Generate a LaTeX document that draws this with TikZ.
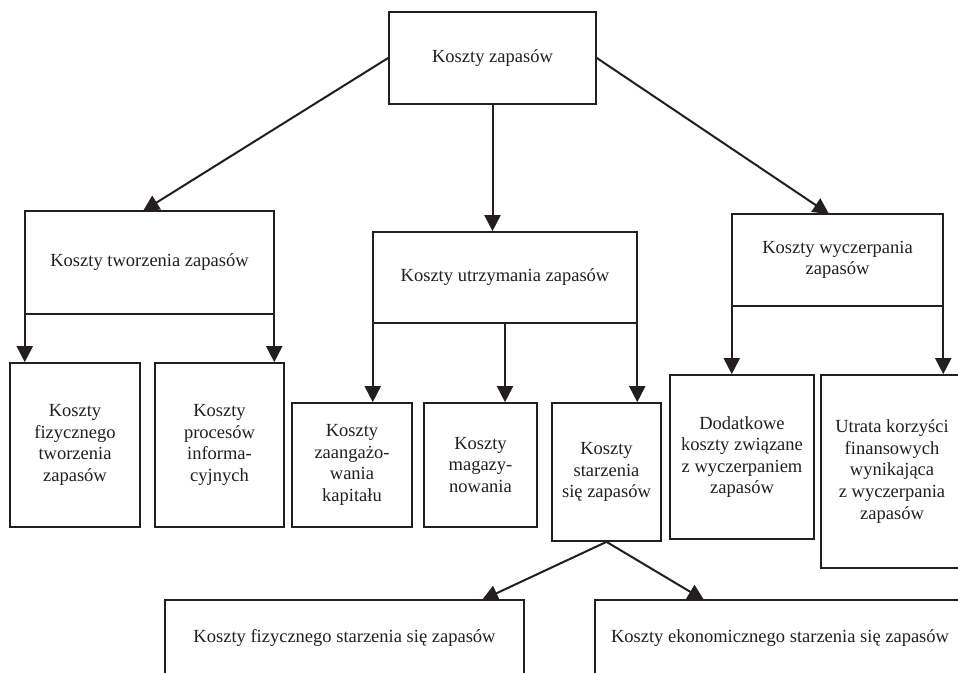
\documentclass[tikz,border=0pt]{standalone}
\usepackage{fontspec}
\setmainfont{Liberation Serif}
\usetikzlibrary{arrows.meta}
\definecolor{ink}{HTML}{231F20}
\begin{document}
\begin{tikzpicture}[x=1pt,y=-1pt,
  box/.style={draw=ink, line width=1.7pt, rectangle, inner sep=0pt, align=center,
    text=ink, font=\fontsize{18.5}{21.6}\selectfont},
  arr/.style={draw=ink, line width=2pt, -{Triangle[width=16pt,length=16pt]}}]
\useasboundingbox (0,0) rectangle (958,672);
\clip (0,0) rectangle (958,672);
\fill[white] (0,0) rectangle (958,672);
% top
\node[box, minimum width=207pt, minimum height=92pt] (top) at (492.5,58) {Koszty zapasów};
% level 2
\node[box, minimum width=249pt, minimum height=103pt] (tw) at (149.5,262.5) {Koszty tworzenia zapasów};
\node[box, minimum width=264pt, minimum height=91pt] (ut) at (505,277.5) {Koszty utrzymania zapasów};
\node[box, minimum width=211pt, minimum height=92pt] (wy) at (837.5,260) {Koszty wyczerpania\\zapasów};
% level 3
\node[box, minimum width=130pt, minimum height=164pt] (c1) at (75,445) {Koszty\\fizycznego\\tworzenia\\zapasów};
\node[box, minimum width=129pt, minimum height=164pt] (c2) at (219.5,445) {Koszty\\procesów\\informa-\\cyjnych};
\node[box, minimum width=120pt, minimum height=124pt] (c3) at (352,465) {Koszty\\zaangażo-\\wania\\kapitału};
\node[box, minimum width=113pt, minimum height=124pt] (c4) at (480.5,465) {Koszty\\magazy-\\nowania};
\node[box, minimum width=109pt, minimum height=138pt] (c5) at (606.5,472) {Koszty\\starzenia\\się zapasów};
\node[box, minimum width=144pt, minimum height=164pt] (c6) at (742,457) {Dodatkowe\\koszty związane\\z wyczerpaniem\\zapasów};
\node[box, minimum width=142pt, minimum height=193pt] (c7) at (892,471.5) {Utrata korzyści\\finansowych\\wynikająca\\z wyczerpania\\zapasów};
% level 4
\node[box, minimum width=359pt, minimum height=76pt] (b1) at (344.5,638) {Koszty fizycznego starzenia się zapasów};
\node[box, minimum width=370pt, minimum height=76pt] (b2) at (780,638) {Koszty ekonomicznego starzenia się zapasów};
% tips
\coordinate (t1) at (143,211);
\coordinate (t3) at (829,214);
\coordinate (t4) at (482,600);
\coordinate (t5) at (704,600);
% connectors
\draw[arr] (top.west) -- (t1);
\draw[arr] (top.south) -- (top.south |- ut.north);
\draw[arr] (top.east) -- (t3);
\draw[arr] ([xshift=0.6pt]tw.west) -- ([xshift=0.6pt]tw.west |- c1.north);
\draw[arr] ([xshift=-0.6pt]tw.east) -- ([xshift=-0.6pt]tw.east |- c2.north);
\draw[arr] ([xshift=0.6pt]ut.west) -- ([xshift=0.6pt]ut.west |- c3.north);
\draw[arr] (ut.south) -- (ut.south |- c4.north);
\draw[arr] ([xshift=-0.6pt]ut.east) -- ([xshift=-0.6pt]ut.east |- c5.north);
\draw[arr] ([xshift=0.6pt]wy.west) -- ([xshift=0.6pt]wy.west |- c6.north);
\draw[arr] ([xshift=-0.6pt]wy.east) -- ([xshift=-0.6pt]wy.east |- c7.north);
\draw[arr] (c5.south) -- (t4);
\draw[arr] (c5.south) -- (t5);
\end{tikzpicture}
\end{document}
